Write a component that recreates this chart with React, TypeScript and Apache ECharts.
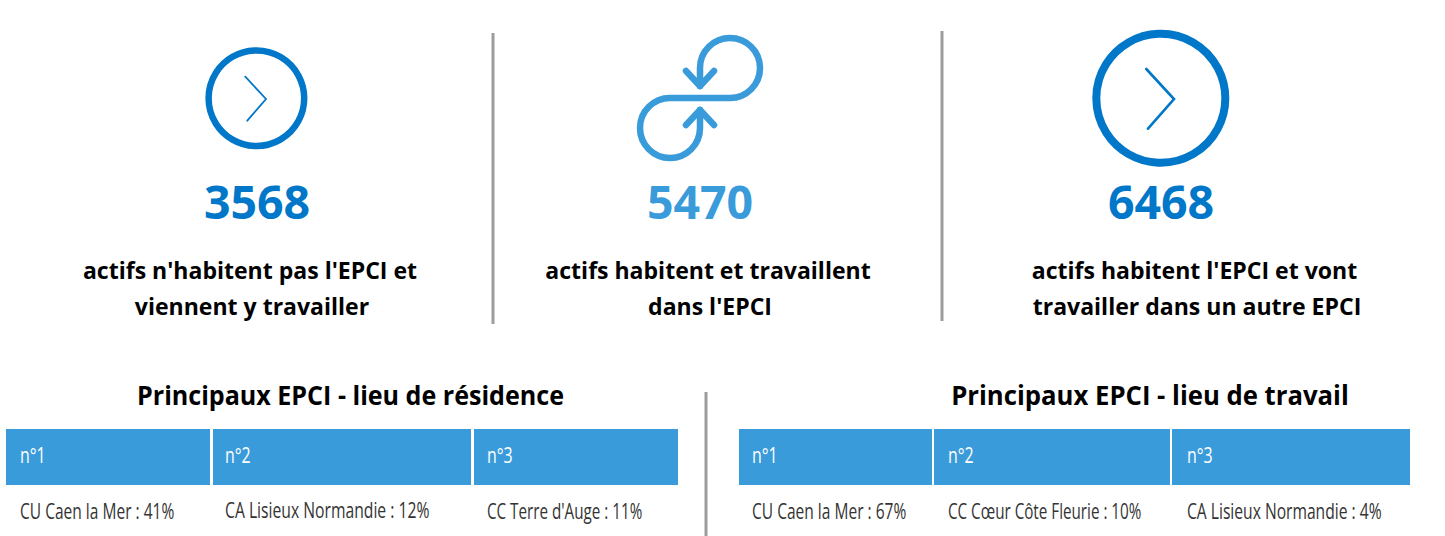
import React, { useEffect, useRef } from "react";
import * as echarts from "echarts";

const counts = ["3568", "5470", "6468"];
const captionsLine1 = ["actifs n'habitent pas l'EPCI et", "actifs habitent et travaillent", "actifs habitent l'EPCI et vont"];
const captionsLine2 = ["viennent y travailler", "dans l'EPCI", "travailler dans un autre EPCI"];
const tableTitles = ["Principaux EPCI - lieu de résidence", "Principaux EPCI - lieu de travail"];
const ranks = ["n°1", "n°2", "n°3"];
const residence = ["CU Caen la Mer : 41%", "CA Lisieux Normandie : 12%", "CC Terre d'Auge : 11%"];
const work = ["CU Caen la Mer : 67%", "CC Cœur Côte Fleurie : 10%", "CA Lisieux Normandie : 4%"];

const DARK = "#0077C8";
const LIGHT = "#3A9BDB";
const GRAY = "#9D9D9D";
const BOLD = "'Open Sans'";
const COND = "'Open Sans'";

echarts.graphic.registerShape(
  "loopIcon",
  echarts.graphic.extendPath("M700 86L700 68A30 30 0 1 1 730 98L670 98A30 30 0 1 0 700 128L700 110", {})
);

function boldText(text: string, cx: number, cy: number, size: number, fill: string, sx: number) {
  return {
    type: "text", x: cx, y: cy, scaleX: sx, silent: true,
    style: { text, x: 0, y: 0, align: "center", verticalAlign: "middle", fontFamily: BOLD, fontWeight: 700, fontSize: size, fill },
  };
}
function condText(text: string, x: number, cy: number, size: number, fill: string, sx: number) {
  return {
    type: "text", x, y: cy, scaleX: sx, silent: true,
    style: { text, x: 0, y: 0, align: "left", verticalAlign: "middle", fontFamily: COND, fontWeight: 400, fontSize: size, fill },
  };
}
function vline(x: number, y1: number, y2: number) {
  return { type: "line", silent: true, shape: { x1: x, y1, x2: x, y2 }, style: { stroke: GRAY, lineWidth: 3 } };
}
function ringIcon(cx: number, cy: number, r: number, w: number, pts: number[][], cw: number) {
  return [
    { type: "circle", silent: true, shape: { cx, cy, r }, style: { fill: "none", stroke: DARK, lineWidth: w } },
    { type: "polyline", silent: true, shape: { points: pts }, style: { fill: "none", stroke: DARK, lineWidth: cw, lineCap: "round" } },
  ];
}
function table(title: string, titleX: number, titleScale: number, xs: number[][], textX: number[], textScale: number[], values: string[]) {
  const out: any[] = [boldText(title, titleX, 395, 26, "#000", titleScale)];
  xs.forEach(([a, b], i) => {
    out.push({ type: "rect", silent: true, shape: { x: a, y: 429, width: b - a, height: 56 }, style: { fill: LIGHT } });
    out.push(condText(ranks[i], textX[i], 455, 21, "#fff", 0.76));
    out.push(condText(values[i], textX[i], 510, 21, "#333", textScale[i]));
  });
  return out;
}

export default function App() {
  const ref = useRef<HTMLDivElement>(null);
  useEffect(() => {
    document.body.style.margin = "0";
    const chart = echarts.init(ref.current!, null, { renderer: "svg" });
    const line1X = [250, 708, 1194.5];
    const line2X = [252, 710, 1197];
    const numberX = [257, 700, 1161];
    const colors = [DARK, LIGHT, DARK];
    const elements: any[] = [
      vline(493, 33, 324),
      vline(942, 31, 321),
      vline(706, 392, 536),
      ...ringIcon(256.4, 98.2, 47.8, 6.5, [[245.3, 76.7], [266, 99], [247.3, 120.7]], 1.8),
      ...ringIcon(1160.8, 98.3, 64.5, 8, [[1146.3, 69], [1174, 99], [1148, 128.7]], 2.6),
      { type: "loopIcon", x: 0, y: 0, silent: true, style: { fill: "none", stroke: LIGHT, lineWidth: 6.5, lineCap: "round", lineJoin: "round" } },
      { type: "polyline", silent: true, shape: { points: [[686, 71], [700, 86], [714, 71]] }, style: { fill: "none", stroke: LIGHT, lineWidth: 6.5, lineCap: "round", lineJoin: "round" } },
      { type: "polyline", silent: true, shape: { points: [[686, 125], [700, 110], [714, 125]] }, style: { fill: "none", stroke: LIGHT, lineWidth: 6.5, lineCap: "round", lineJoin: "round" } },
    ];
    counts.forEach((c, i) => {
      elements.push(boldText(c, numberX[i], 202, 46, colors[i], 1.01));
      elements.push(boldText(captionsLine1[i], line1X[i], 270, 24, "#000", 0.96));
      elements.push(boldText(captionsLine2[i], line2X[i], 306, 24, "#000", 0.96));
    });
    elements.push(...table(tableTitles[0], 350.5, 0.965, [[6, 210], [213, 471], [474, 678]], [20, 225, 487], [0.74, 0.748, 0.725], residence));
    elements.push(...table(tableTitles[1], 1150, 0.989, [[739, 932], [934, 1170], [1172, 1410]], [752, 948, 1187], [0.74, 0.725, 0.745], work));
    chart.setOption({ animation: false, backgroundColor: "#fff", graphic: { elements } });
    return () => chart.dispose();
  }, []);
  return <div ref={ref} style={{ width: 1445, height: 536, overflow: "hidden" }} />;
}
